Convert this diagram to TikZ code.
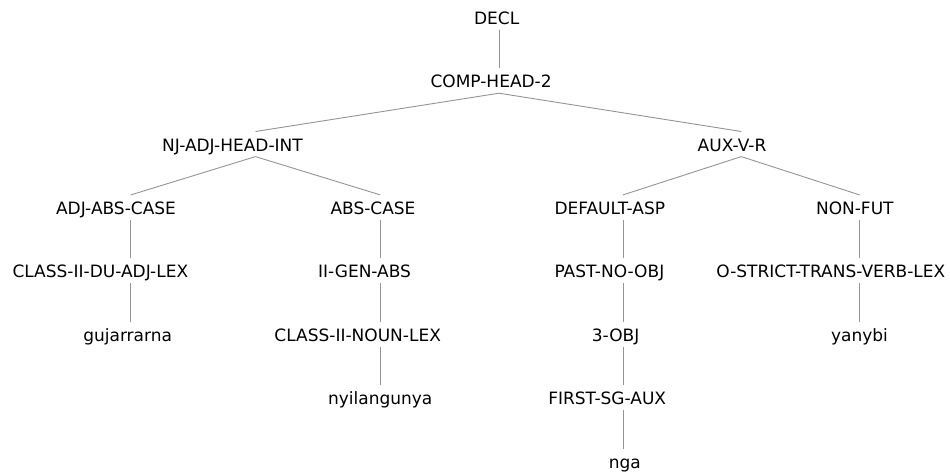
\documentclass[tikz,border=0pt]{standalone}
\usepackage{fontspec}
\setmainfont{DejaVu Sans}
\definecolor{edgegray}{gray}{0.58}
\newcommand\ulab[2]{\makebox[\dimexpr 12.45pt*#1\relax][l]{#2}}
\newcommand\llab[2]{\makebox[\dimexpr 9.5pt*#1\relax][l]{#2}}
\begin{document}
\begin{tikzpicture}[x=1pt,y=-1pt,
  lbl/.style={font=\fontsize{17}{20}\selectfont, text height=19.4pt, text depth=5.3pt, inner xsep=0pt, inner ysep=0pt, anchor=base},
  edge/.style={draw=edgegray, line width=0.9pt}]
\useasboundingbox (0,0) rectangle (950,472);
\node[lbl] (decl)   at (499,24.3)    {\ulab{4}{DECL}};
\node[lbl] (comp)   at (499,87.7)    {\ulab{11}{COMP-HEAD-2}};
\node[lbl] (nj)     at (255.5,151.1) {\ulab{15}{NJ-ADJ-HEAD-INT}};
\node[lbl] (aux)    at (741.3,151.1) {\ulab{7}{AUX-V-R}};
\node[lbl] (adjabs) at (130.8,214.5) {\ulab{12}{ADJ-ABS-CASE}};
\node[lbl] (abs)    at (380.3,214.5) {\ulab{8}{ABS-CASE}};
\node[lbl] (dasp)   at (623,214.5)   {\ulab{11}{DEFAULT-ASP}};
\node[lbl] (nfut)   at (859.6,214.5) {\ulab{7}{NON-FUT}};
\node[lbl] (cdu)    at (130.8,277.9) {\ulab{19}{CLASS-II-DU-ADJ-LEX}};
\node[lbl] (gen)    at (380.3,277.9) {\ulab{10}{II-GEN-ABS}};
\node[lbl] (past)   at (623,277.9)   {\ulab{11}{PAST-NO-OBJ}};
\node[lbl] (ostr)   at (859.6,277.9) {\ulab{23}{O-STRICT-TRANS-VERB-LEX}};
\node[lbl] (guj)    at (130.8,341.3) {\llab{10}{gujarrarna}};
\node[lbl] (cnoun)  at (380.3,341.3) {\ulab{17}{CLASS-II-NOUN-LEX}};
\node[lbl] (obj)    at (623,341.3)   {\ulab{5}{3-OBJ}};
\node[lbl] (yan)    at (859.6,341.3) {\llab{6}{yanybi}};
\node[lbl] (nyi)    at (380.3,404.7) {\llab{11}{nyilangunya}};
\node[lbl] (first)  at (623,404.7)   {\ulab{12}{FIRST-SG-AUX}};
\node[lbl] (nga)    at (623,468.1)   {\llab{3}{nga}};
\draw[edge] (decl.south) -- (comp.north);
\draw[edge] (comp.south) -- (nj.north);
\draw[edge] (comp.south) -- (aux.north);
\draw[edge] (nj.south) -- (adjabs.north);
\draw[edge] (nj.south) -- (abs.north);
\draw[edge] (aux.south) -- (dasp.north);
\draw[edge] (aux.south) -- (nfut.north);
\draw[edge] (adjabs.south) -- (cdu.north);
\draw[edge] (cdu.south) -- (guj.north);
\draw[edge] (abs.south) -- (gen.north);
\draw[edge] (gen.south) -- (cnoun.north);
\draw[edge] (cnoun.south) -- (nyi.north);
\draw[edge] (dasp.south) -- (past.north);
\draw[edge] (past.south) -- (obj.north);
\draw[edge] (obj.south) -- (first.north);
\draw[edge] (first.south) -- (nga.north);
\draw[edge] (nfut.south) -- (ostr.north);
\draw[edge] (ostr.south) -- (yan.north);
\end{tikzpicture}
\end{document}
